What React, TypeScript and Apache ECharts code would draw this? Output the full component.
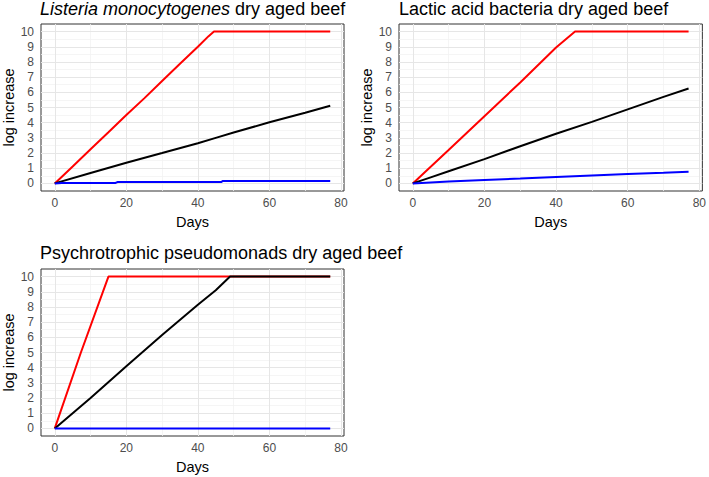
import React, { useEffect, useRef } from "react";
import * as echarts from "echarts";

// Days / log increase pairs
const listeriaRed: [number, number][] = [[0, 0], [5, 1.12], [10, 2.25], [15, 3.37], [20, 4.5], [25, 5.6], [30, 6.75], [35, 7.88], [40, 9.0], [43, 9.7], [44.5, 10], [77, 10]];
const listeriaBlack: [number, number][] = [[0, 0], [10, 0.68], [20, 1.36], [30, 2.0], [40, 2.65], [45, 3.0], [50, 3.35], [60, 4.03], [70, 4.65], [77, 5.12]];
const listeriaBlue: [number, number][] = [[0, 0], [2, 0.03], [17, 0.03], [17.5, 0.09], [46.5, 0.09], [47, 0.16], [77, 0.16]];

const lacticRed: [number, number][] = [[0, 0], [10, 2.2], [20, 4.43], [30, 6.65], [40, 8.95], [45.3, 10], [77, 10]];
const lacticBlack: [number, number][] = [[0, 0], [5, 0.4], [10, 0.8], [20, 1.6], [30, 2.45], [40, 3.27], [50, 4.05], [60, 4.88], [70, 5.7], [77, 6.25]];
const lacticBlue: [number, number][] = [[0, 0], [10, 0.13], [20, 0.23], [30, 0.32], [40, 0.42], [50, 0.52], [60, 0.62], [70, 0.7], [77, 0.77]];

const pseudoRed: [number, number][] = [[0, 0], [7.3, 5], [15, 10], [77, 10]];
const pseudoBlack: [number, number][] = [[0, 0], [5, 1.0], [10, 2.0], [20, 4.1], [30, 6.15], [40, 8.15], [45, 9.1], [49, 10], [77, 10]];
const pseudoBlue: [number, number][] = [[0, 0], [77, 0]];

const xTicks = [0, 20, 40, 60, 80];
const xMinor = [10, 30, 50, 70];
const yTicks = [0, 1, 2, 3, 4, 5, 6, 7, 8, 9, 10];
const yMinor = [0.5, 1.5, 2.5, 3.5, 4.5, 5.5, 6.5, 7.5, 8.5, 9.5];

const titles = ["{i|Listeria monocytogenes} dry aged beef", "Lactic acid bacteria dry aged beef", "Psychrotrophic pseudomonads dry aged beef"];
const xName = "Days";
const yName = "log increase";

const FONT = "'Liberation Sans', Arial, sans-serif";

export default function App() {
  const ref = useRef<HTMLDivElement>(null);
  useEffect(() => {
    if (!ref.current) return;
    const chart = echarts.init(ref.current, undefined, { renderer: "svg" });
    const grids = [
      { left: 40, top: 24, width: 304, height: 167 },
      { left: 399, top: 24, width: 304, height: 167 },
      { left: 40, top: 269, width: 304, height: 167 },
    ];
    const panels = [
      [listeriaRed, listeriaBlack, listeriaBlue],
      [lacticRed, lacticBlack, lacticBlue],
      [pseudoRed, pseudoBlack, pseudoBlue],
    ];
    const colors = ["#ff0000", "#000000", "#0000ff"];
    const xAxis: any[] = [];
    const yAxis: any[] = [];
    const series: any[] = [];
    grids.forEach((g, i) => {
      xAxis.push({
        type: "value", gridIndex: i, min: -3.85, max: 80.85,
        name: xName, nameLocation: "middle", nameGap: 23,
        nameTextStyle: { fontSize: 14.5, color: "#000", fontFamily: FONT },
        axisLine: { show: false },
        splitLine: { show: false },
        axisTick: { show: true, customValues: xTicks, length: 3, lineStyle: { color: "#333" } },
        axisLabel: { customValues: xTicks, fontSize: 12, color: "#4d4d4d", fontFamily: FONT, margin: 6 },
      });
      yAxis.push({
        type: "value", gridIndex: i, min: -0.5, max: 10.5,
        name: yName, nameLocation: "middle", nameGap: 25, nameRotate: 90,
        nameTextStyle: { fontSize: 14.5, color: "#000", fontFamily: FONT },
        axisLine: { show: false },
        splitLine: { show: false },
        axisTick: { show: true, customValues: yTicks, length: 3, lineStyle: { color: "#333" } },
        axisLabel: { customValues: yTicks, fontSize: 12, color: "#4d4d4d", fontFamily: FONT, margin: 7 },
      });
      const gridLines: any[] = [];
      xMinor.forEach((v) => gridLines.push({ xAxis: v, lineStyle: { color: "#f2f2f2", width: 0.8, type: "solid" } }));
      yMinor.forEach((v) => gridLines.push({ yAxis: v, lineStyle: { color: "#f2f2f2", width: 0.8, type: "solid" } }));
      xTicks.forEach((v) => gridLines.push({ xAxis: v, lineStyle: { color: "#e6e6e6", width: 1, type: "solid" } }));
      yTicks.forEach((v) => gridLines.push({ yAxis: v, lineStyle: { color: "#e6e6e6", width: 1, type: "solid" } }));
      series.push({
        type: "line", xAxisIndex: i, yAxisIndex: i, data: [[0, 0]], showSymbol: false, z: 1,
        lineStyle: { opacity: 0 },
        markLine: { silent: true, z: 1, symbol: "none", label: { show: false }, data: gridLines, animation: false },
      });
      panels[i].forEach((d, k) => {
        series.push({
          type: "line", xAxisIndex: i, yAxisIndex: i, data: d, showSymbol: false, z: 3 + (k === 2 ? 1 : 0),
          lineStyle: { color: colors[k], width: 2 }, itemStyle: { color: colors[k] },
        });
      });
    });
    const ts = { fontSize: 18, fontWeight: "normal", color: "#000", fontFamily: FONT };
    chart.setOption({
      animation: false,
      backgroundColor: "#fff",
      title: [
        { text: titles[0], left: 40, top: 0, textStyle: { ...ts, rich: { i: { ...ts, fontStyle: "italic" } } } },
        { text: titles[1], left: 399, top: 0, textStyle: ts },
        { text: titles[2], left: 40, top: 244, textStyle: ts },
      ].map((t) => ({ ...t, padding: 0 })),
      grid: grids.map((g) => ({ ...g, show: true, borderColor: "#333", borderWidth: 1, backgroundColor: "transparent" })),
      xAxis, yAxis, series,
    });
    return () => chart.dispose();
  }, []);
  return <div ref={ref} style={{ position: "absolute", left: 0, top: 0, width: 709, height: 477 }} />;
}
